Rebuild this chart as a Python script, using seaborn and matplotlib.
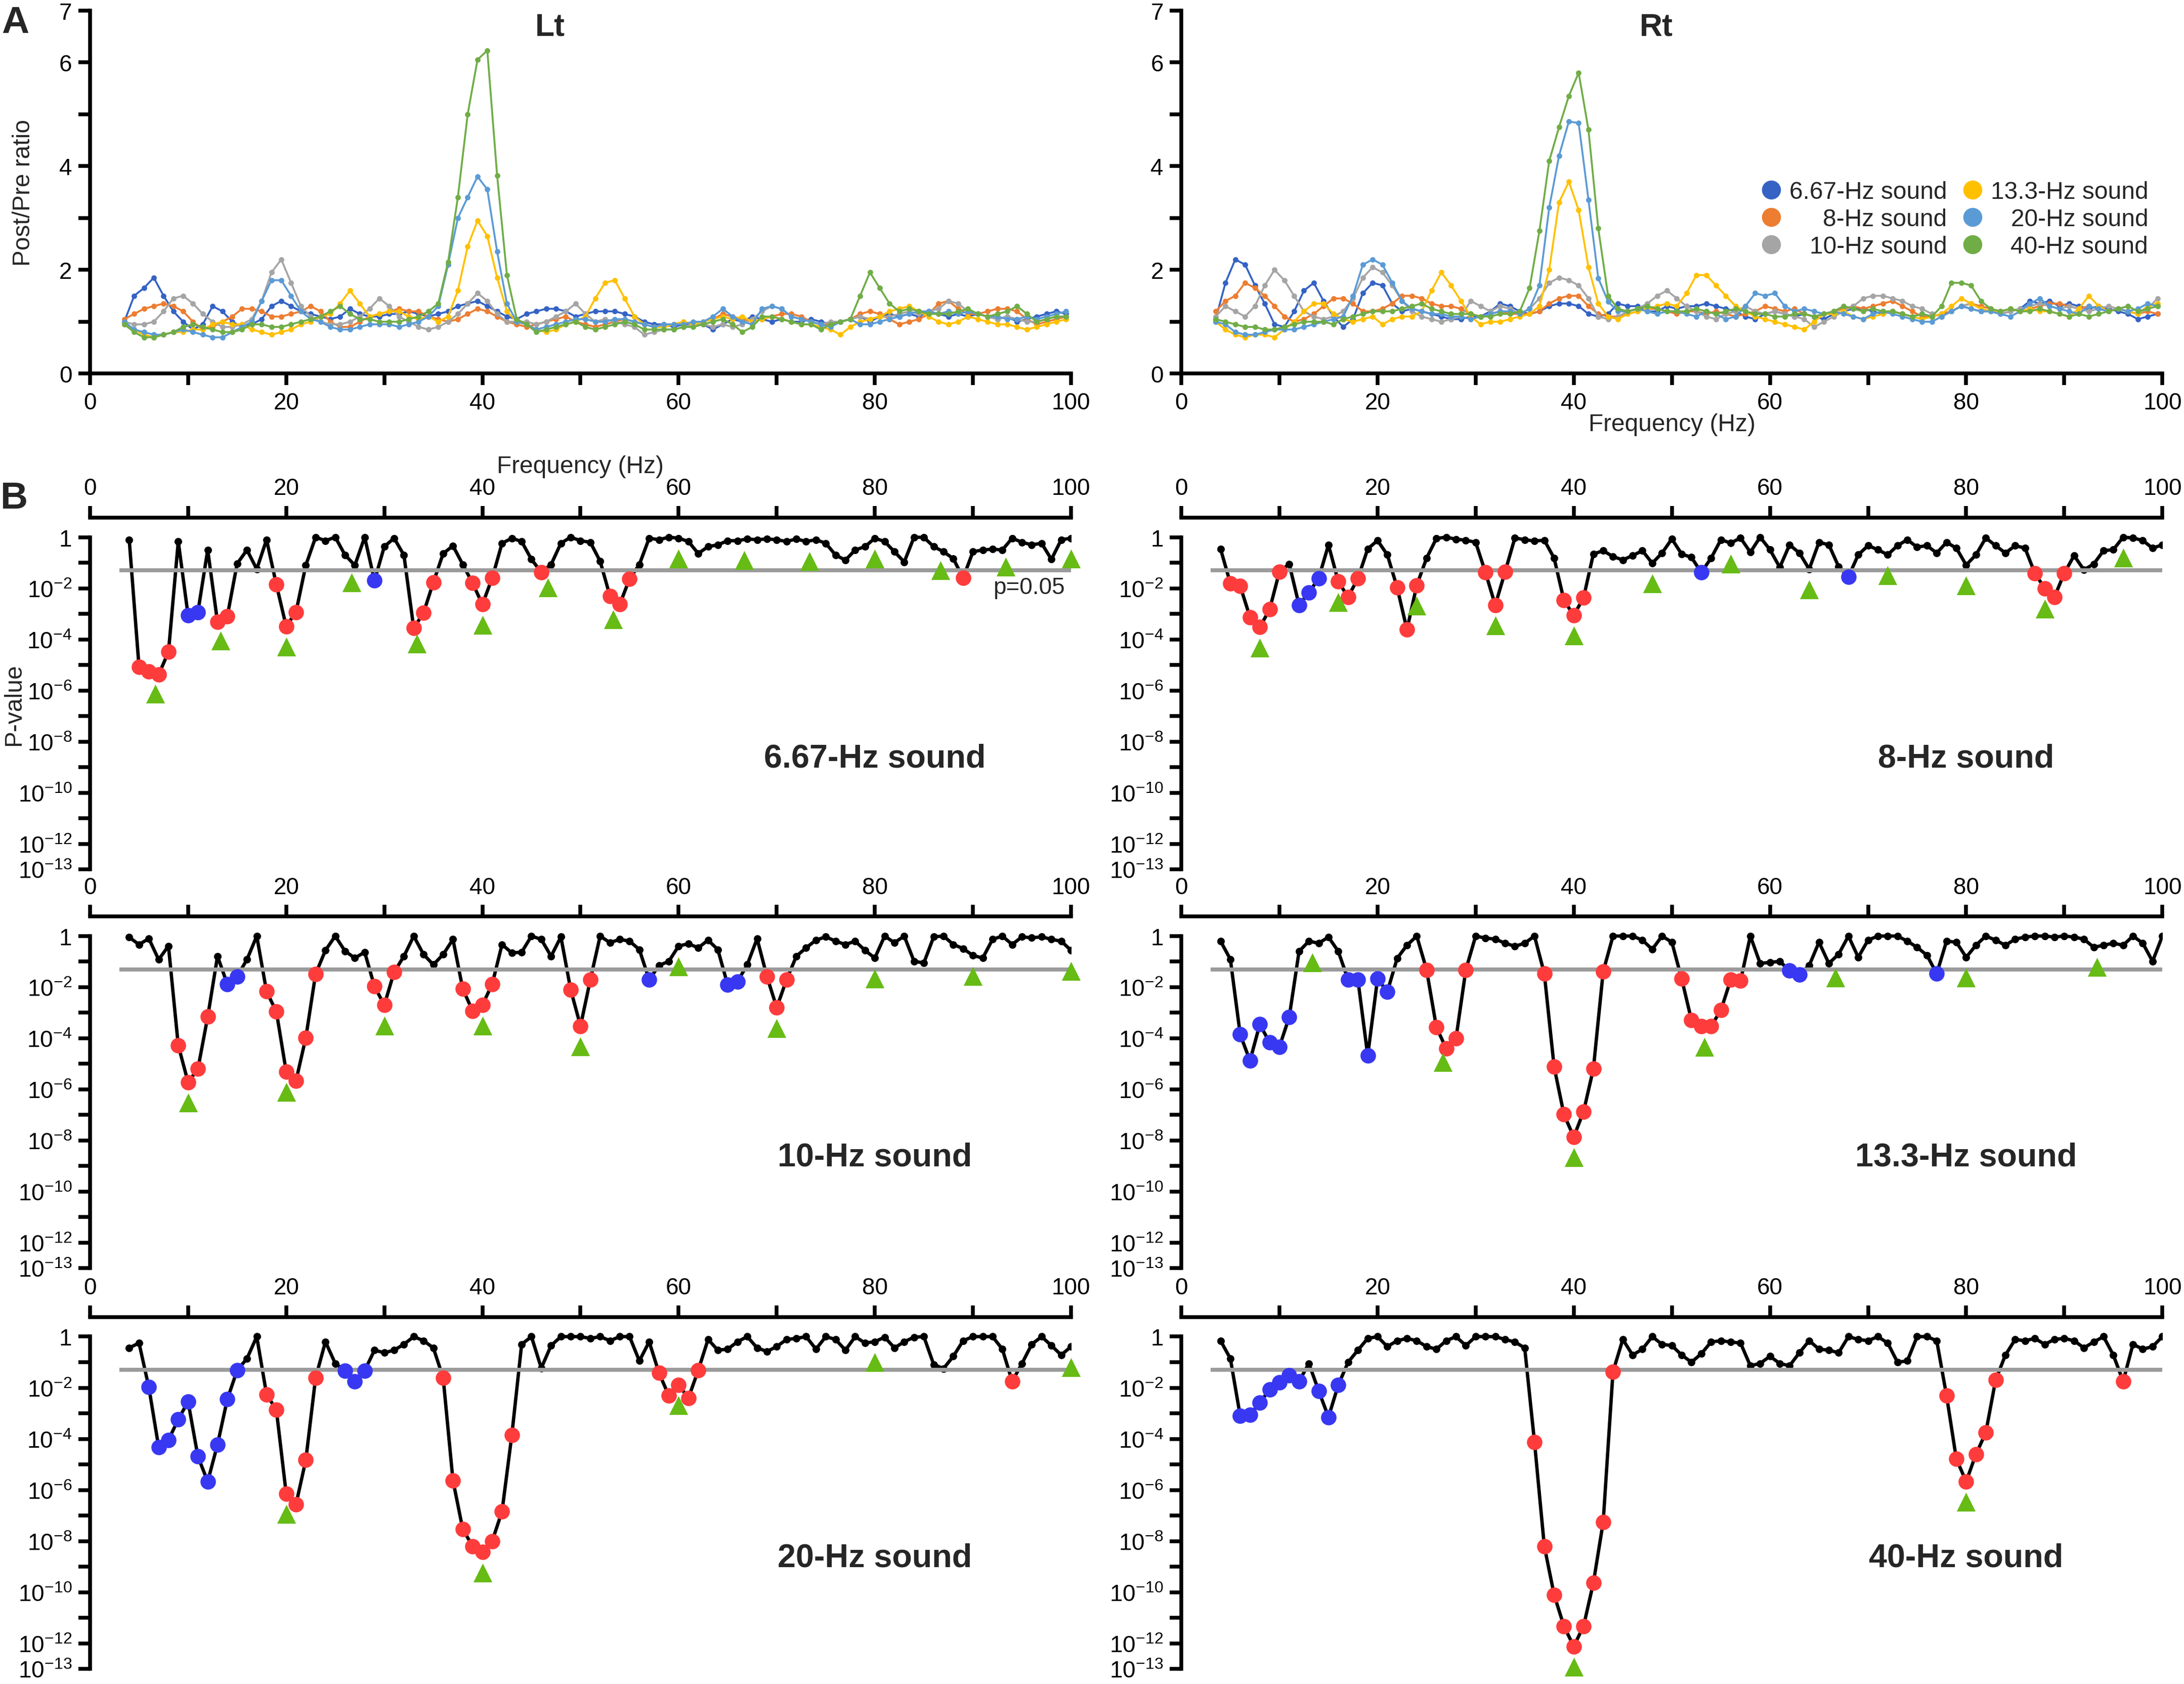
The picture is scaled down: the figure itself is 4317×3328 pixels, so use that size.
import numpy as np
import matplotlib
matplotlib.use("Agg")
import matplotlib.pyplot as plt
from matplotlib.lines import Line2D
from matplotlib.ticker import NullLocator
import seaborn as sns

sns.set_style("ticks")
plt.rcParams["font.family"] = ["Liberation Sans", "DejaVu Sans"]
plt.rcParams["mathtext.fontset"] = "custom"
plt.rcParams["mathtext.rm"] = "Liberation Sans"
plt.rcParams["mathtext.it"] = "Liberation Sans:italic"
plt.rcParams["mathtext.bf"] = "Liberation Sans:bold"

# ---------------------------------------------------------------- data
freq_a = np.arange(3.5, 100.0, 1.0)   # frequency bins of panel A (Hz)
freq_b = np.arange(4, 101, 1)         # frequency bins of panel B (Hz)

sound_labels = ["6.67-Hz sound", "8-Hz sound", "10-Hz sound",
                "13.3-Hz sound", "20-Hz sound", "40-Hz sound"]
sound_colors = ["#3563C4", "#ED7D31", "#A5A5A5", "#FFC000", "#5B9BD5", "#70AD47"]

# Panel A, left hemisphere: post/pre ratio
lt_667 = [1.0, 1.5, 1.65, 1.85, 1.5, 1.2, 1.0, 0.85, 0.95, 1.3,
          1.2, 1.0, 0.9, 0.95, 1.05, 1.3, 1.4, 1.3, 1.2, 1.15,
          1.1, 1.05, 1.1, 1.25, 1.15, 1.1, 1.1, 1.15, 1.15, 1.2,
          1.15, 1.1, 1.15, 1.2, 1.3, 1.35, 1.4, 1.3, 1.2, 1.1,
          1.05, 1.15, 1.2, 1.25, 1.25, 1.2, 1.1, 1.15, 1.2, 1.2,
          1.2, 1.15, 1.1, 1.0, 0.95, 0.95, 0.9, 0.95, 0.95, 0.95,
          0.85, 0.95, 1.05, 1.0, 1.1, 1.05, 1.0, 1.05, 1.0, 1.0,
          1.05, 1.0, 0.95, 1.0, 1.05, 1.1, 1.0, 1.1, 1.15, 1.1,
          1.15, 1.1, 1.2, 1.15, 1.1, 1.15, 1.1, 1.15, 1.1, 1.05,
          1.1, 1.0, 1.05, 1.1, 1.15, 1.2, 1.15]
lt_8 = [1.05, 1.15, 1.25, 1.3, 1.35, 1.3, 1.2, 1.0, 0.85, 0.9,
        1.0, 1.1, 1.25, 1.25, 1.2, 1.1, 1.1, 1.15, 1.2, 1.3,
        1.2, 1.0, 0.9, 0.9, 1.0, 1.1, 1.15, 1.2, 1.25, 1.2,
        1.2, 1.1, 1.05, 1.0, 1.05, 1.15, 1.25, 1.2, 1.1, 1.0,
        0.95, 0.9, 0.95, 1.0, 1.05, 1.1, 1.0, 0.95, 0.9, 0.95,
        1.0, 1.05, 1.0, 0.95, 0.9, 0.95, 0.95, 1.0, 0.95, 1.0,
        1.05, 1.15, 1.1, 1.05, 1.0, 1.05, 1.1, 1.15, 1.15, 1.1,
        1.0, 0.95, 0.95, 1.0, 1.05, 1.15, 1.2, 1.15, 1.05, 0.95,
        1.0, 1.05, 1.15, 1.35, 1.4, 1.25, 1.15, 1.15, 1.2, 1.25,
        1.25, 1.2, 1.05, 0.95, 1.0, 1.05, 1.1]
lt_10 = [1.0, 0.95, 0.95, 1.0, 1.2, 1.45, 1.5, 1.35, 1.15, 1.0,
         0.9, 0.9, 0.95, 1.05, 1.4, 1.95, 2.2, 1.75, 1.3, 1.1,
         1.0, 0.95, 0.95, 1.0, 1.1, 1.25, 1.45, 1.3, 1.1, 1.0,
         0.9, 0.85, 0.9, 1.0, 1.15, 1.35, 1.55, 1.4, 1.15, 1.0,
         1.0, 1.0, 0.95, 1.0, 1.1, 1.2, 1.35, 1.15, 1.0, 1.05,
         1.0, 0.95, 0.9, 0.75, 0.8, 0.85, 0.85, 0.9, 0.95, 0.95,
         0.9, 0.95, 0.9, 0.95, 1.05, 1.2, 1.3, 1.25, 1.1, 1.05,
         1.0, 0.95, 1.0, 1.0, 1.05, 1.1, 1.05, 1.1, 1.1, 1.15,
         1.2, 1.15, 1.2, 1.25, 1.4, 1.35, 1.2, 1.15, 1.1, 1.05,
         1.1, 1.05, 1.0, 1.0, 1.05, 1.1, 1.1]
lt_133 = [0.95, 0.85, 0.75, 0.7, 0.75, 0.8, 0.8, 0.85, 0.85, 0.95,
          1.0, 0.95, 0.95, 0.85, 0.8, 0.75, 0.8, 0.85, 0.95, 1.0,
          1.1, 1.15, 1.35, 1.6, 1.35, 1.1, 1.15, 1.2, 1.2, 1.1,
          1.05, 1.1, 1.0, 1.1, 1.6, 2.45, 2.95, 2.65, 1.85, 1.2,
          1.0, 0.95, 0.85, 0.8, 0.85, 0.95, 1.0, 1.1, 1.45, 1.75,
          1.8, 1.45, 1.1, 0.95, 0.9, 0.9, 0.95, 1.0, 0.95, 1.0,
          1.05, 1.1, 1.05, 1.1, 1.0, 1.05, 1.1, 1.05, 1.0, 0.95,
          0.95, 0.9, 0.85, 0.75, 0.9, 1.0, 1.05, 1.1, 1.2, 1.25,
          1.3, 1.2, 1.1, 1.0, 0.95, 1.0, 1.1, 1.05, 1.0, 0.95,
          0.95, 0.9, 0.85, 0.9, 0.95, 1.0, 1.05]
lt_20 = [1.0, 0.85, 0.8, 0.75, 0.75, 0.8, 0.85, 0.8, 0.75, 0.7,
         0.7, 0.8, 0.9, 1.0, 1.4, 1.8, 1.8, 1.5, 1.2, 1.05,
         1.0, 0.9, 0.85, 0.85, 0.9, 0.95, 0.95, 0.95, 0.9, 0.95,
         1.0, 1.1, 1.3, 2.1, 3.0, 3.4, 3.8, 3.55, 2.35, 1.35,
         1.0, 0.95, 0.85, 0.9, 0.95, 1.0, 1.05, 1.05, 1.0, 1.0,
         1.05, 1.05, 1.0, 0.95, 0.9, 0.95, 0.95, 0.95, 1.0, 1.0,
         1.1, 1.25, 1.1, 1.0, 0.95, 1.25, 1.3, 1.25, 1.1, 1.05,
         1.0, 0.95, 0.9, 1.0, 1.05, 0.95, 0.95, 1.0, 1.05, 1.1,
         1.15, 1.2, 1.2, 1.15, 1.2, 1.15, 1.2, 1.15, 1.1, 1.1,
         1.05, 1.05, 1.1, 1.05, 1.1, 1.15, 1.2]
lt_40 = [0.95, 0.8, 0.7, 0.7, 0.75, 0.8, 0.9, 0.95, 0.9, 0.85,
         0.8, 0.8, 0.85, 0.95, 0.95, 0.9, 0.9, 0.95, 1.0, 1.05,
         1.1, 1.2, 1.3, 1.15, 1.05, 1.05, 1.0, 1.0, 1.0, 1.05,
         1.1, 1.2, 1.35, 2.15, 3.4, 5.0, 6.05, 6.23, 3.82, 1.9,
         1.05, 0.95, 0.8, 0.85, 0.9, 0.95, 1.0, 0.9, 0.85, 0.9,
         0.95, 1.0, 0.95, 0.85, 0.85, 0.85, 0.85, 0.9, 0.9, 0.95,
         1.0, 1.05, 0.95, 0.8, 0.9, 1.1, 1.1, 1.05, 1.0, 0.95,
         0.95, 0.85, 0.95, 1.0, 1.05, 1.5, 1.95, 1.65, 1.35, 1.2,
         1.25, 1.2, 1.15, 1.15, 1.15, 1.2, 1.25, 1.15, 1.1, 1.15,
         1.2, 1.3, 1.15, 1.0, 1.05, 1.1, 1.1]

# Panel A, right hemisphere: post/pre ratio
rt_667 = [1.05, 1.75, 2.2, 2.1, 1.7, 1.35, 0.95, 0.9, 1.2, 1.6,
          1.75, 1.4, 1.1, 0.9, 1.05, 1.55, 1.75, 1.7, 1.35, 1.2,
          1.25, 1.2, 1.15, 1.1, 1.05, 1.05, 1.1, 1.1, 1.2, 1.35,
          1.3, 1.2, 1.15, 1.2, 1.3, 1.35, 1.35, 1.3, 1.15, 1.1,
          1.15, 1.35, 1.3, 1.3, 1.2, 1.2, 1.3, 1.25, 1.3, 1.3,
          1.35, 1.3, 1.25, 1.2, 1.1, 1.05, 1.15, 1.2, 1.15, 1.1,
          1.15, 1.1, 1.05, 1.15, 1.2, 1.25, 1.25, 1.2, 1.15, 1.2,
          1.15, 1.1, 1.15, 1.1, 1.15, 1.2, 1.3, 1.25, 1.2, 1.2,
          1.15, 1.2, 1.25, 1.4, 1.35, 1.4, 1.3, 1.35, 1.3, 1.25,
          1.3, 1.25, 1.2, 1.15, 1.05, 1.1, 1.15]
rt_8 = [1.2, 1.4, 1.5, 1.75, 1.65, 1.5, 1.3, 1.1, 1.0, 1.05,
        1.15, 1.3, 1.45, 1.45, 1.35, 1.2, 1.2, 1.25, 1.35, 1.5,
        1.5, 1.45, 1.35, 1.3, 1.3, 1.25, 1.15, 1.1, 1.15, 1.2,
        1.15, 1.15, 1.15, 1.2, 1.35, 1.45, 1.5, 1.5, 1.3, 1.15,
        1.1, 1.1, 1.15, 1.2, 1.25, 1.25, 1.2, 1.15, 1.2, 1.2,
        1.15, 1.2, 1.15, 1.1, 1.15, 1.2, 1.3, 1.25, 1.2, 1.25,
        1.15, 1.1, 1.15, 1.2, 1.25, 1.3, 1.25, 1.3, 1.35, 1.4,
        1.3, 1.2, 1.1, 1.1, 1.15, 1.2, 1.3, 1.35, 1.3, 1.25,
        1.2, 1.25, 1.2, 1.25, 1.3, 1.35, 1.35, 1.3, 1.25, 1.3,
        1.25, 1.2, 1.25, 1.2, 1.15, 1.2, 1.15]
rt_10 = [1.1, 1.3, 1.2, 1.1, 1.3, 1.7, 2.0, 1.8, 1.5, 1.2,
         1.1, 1.05, 1.1, 1.2, 1.45, 1.85, 2.05, 1.95, 1.7, 1.4,
         1.2, 1.1, 1.05, 1.0, 1.05, 1.1, 1.4, 1.3, 1.2, 1.3,
         1.25, 1.15, 1.25, 1.45, 1.75, 1.85, 1.8, 1.7, 1.45, 1.1,
         1.05, 1.1, 1.2, 1.25, 1.35, 1.5, 1.6, 1.45, 1.3, 1.2,
         1.1, 1.05, 1.15, 1.2, 1.3, 1.2, 1.15, 1.2, 1.15, 1.1,
         1.05, 0.9, 1.0, 1.1, 1.2, 1.3, 1.45, 1.5, 1.5, 1.45,
         1.4, 1.3, 1.25, 1.15, 1.1, 1.2, 1.3, 1.35, 1.25, 1.2,
         1.15, 1.2, 1.25, 1.3, 1.35, 1.3, 1.25, 1.3, 1.25, 1.2,
         1.25, 1.3, 1.25, 1.2, 1.15, 1.25, 1.45]
rt_133 = [1.0, 0.85, 0.75, 0.7, 0.75, 0.75, 0.7, 0.85, 1.0, 1.2,
          1.35, 1.35, 1.15, 1.05, 1.0, 1.05, 1.1, 0.95, 1.05, 1.1,
          1.1, 1.2, 1.6, 1.95, 1.7, 1.4, 1.1, 0.95, 1.0, 1.0,
          1.05, 1.1, 1.15, 1.3, 2.0, 3.3, 3.7, 3.15, 2.05, 1.35,
          1.1, 1.05, 1.15, 1.2, 1.25, 1.3, 1.35, 1.3, 1.55, 1.9,
          1.9, 1.7, 1.5, 1.3, 1.2, 1.1, 1.05, 1.0, 0.95, 0.9,
          0.85, 1.0, 1.15, 1.15, 1.2, 1.1, 1.05, 1.1, 1.15, 1.2,
          1.15, 1.1, 1.05, 1.1, 1.15, 1.3, 1.45, 1.35, 1.25, 1.2,
          1.2, 1.25, 1.2, 1.25, 1.2, 1.2, 1.15, 1.1, 1.25, 1.5,
          1.3, 1.2, 1.25, 1.2, 1.15, 1.3, 1.35]
rt_20 = [1.0, 0.95, 0.8, 0.75, 0.75, 0.8, 0.85, 0.85, 0.85, 0.9,
         0.95, 1.0, 1.05, 1.1, 1.5, 2.1, 2.2, 2.1, 1.75, 1.4,
         1.25, 1.2, 1.15, 1.15, 1.1, 1.1, 1.05, 1.1, 1.15, 1.2,
         1.2, 1.15, 1.25, 1.7, 3.2, 4.2, 4.86, 4.83, 3.35, 1.84,
         1.39, 1.2, 1.2, 1.25, 1.2, 1.15, 1.2, 1.2, 1.15, 1.1,
         1.2, 1.15, 1.05, 1.1, 1.3, 1.55, 1.5, 1.55, 1.3, 1.2,
         1.25, 1.2, 1.15, 1.2, 1.15, 1.1, 1.05, 1.15, 1.2, 1.15,
         1.1, 1.05, 1.0, 1.0, 1.1, 1.2, 1.3, 1.25, 1.2, 1.2,
         1.15, 1.1, 1.2, 1.35, 1.45, 1.3, 1.25, 1.2, 1.15, 1.3,
         1.25, 1.2, 1.25, 1.2, 1.25, 1.35, 1.3]
rt_40 = [1.05, 1.0, 0.95, 0.9, 0.9, 0.85, 0.85, 0.9, 0.95, 1.0,
         1.0, 1.0, 0.95, 1.05, 1.1, 1.15, 1.2, 1.2, 1.2, 1.25,
         1.3, 1.35, 1.25, 1.2, 1.15, 1.15, 1.15, 1.1, 1.1, 1.15,
         1.15, 1.2, 1.65, 2.75, 4.1, 4.75, 5.35, 5.8, 4.7, 2.8,
         1.5, 1.25, 1.2, 1.25, 1.3, 1.25, 1.2, 1.2, 1.2, 1.25,
         1.2, 1.15, 1.2, 1.25, 1.2, 1.15, 1.15, 1.1, 1.1, 1.15,
         1.15, 1.1, 1.15, 1.2, 1.3, 1.25, 1.2, 1.25, 1.2, 1.2,
         1.15, 1.1, 1.15, 1.1, 1.3, 1.75, 1.75, 1.7, 1.4, 1.25,
         1.2, 1.25, 1.2, 1.2, 1.25, 1.2, 1.15, 1.1, 1.15, 1.1,
         1.15, 1.2, 1.25, 1.3, 1.2, 1.25, 1.3]

# Panel B: log10(P-value) per frequency bin (4..100 Hz)
logp_667 = [-0.1, -5.08, -5.25, -5.38, -4.49, -0.17, -3.06, -2.93, -0.5, -3.32,
            -3.09, -1.04, -0.5, -1.25, -0.1, -1.86, -3.49, -2.93, -1.1, 0.0,
            -0.14, 0.0, -0.7, -1.1, 0.0, -1.7, -0.37, -0.04, -0.7, -3.56,
            -2.96, -1.77, -0.64, -0.34, -1.07, -1.8, -2.63, -1.6, -0.24, -0.04,
            -0.17, -0.87, -1.37, -1.07, -0.24, 0.0, -0.14, -0.2, -0.94, -2.3,
            -2.63, -1.63, -1.07, -0.04, -0.1, 0.0, -0.04, -0.17, -0.64, -0.37,
            -0.3, -0.14, -0.14, -0.07, -0.1, -0.07, -0.1, -0.17, -0.07, -0.17,
            -0.1, -0.24, -0.7, -0.9, -0.5, -0.37, -0.04, -0.17, -0.57, -0.97,
            0.0, -0.01, -0.37, -0.57, -0.84, -1.6, -0.57, -0.5, -0.47, -0.5,
            -0.04, -0.2, -0.3, -0.24, -0.87, -0.1, -0.04]
logp_8 = [-0.46, -1.81, -1.91, -3.13, -3.52, -2.83, -1.35, -1.05, -2.66, -2.17,
          -1.61, -0.3, -1.74, -2.34, -1.61, -0.46, -0.13, -0.69, -1.97, -3.62,
          -1.88, -0.82, -0.05, 0.0, -0.08, -0.12, -0.2, -1.38, -2.66, -1.36,
          -0.03, -0.1, -0.15, -0.12, -0.82, -2.47, -3.06, -2.37, -0.66, -0.53,
          -0.76, -0.89, -0.72, -0.53, -1.02, -0.62, -0.07, -0.66, -0.79, -1.38,
          -0.82, -0.1, -0.23, -0.03, -0.59, 0.0, -0.49, -1.18, -0.3, -0.62,
          -1.25, -0.2, -0.3, -1.15, -1.55, -0.69, -0.33, -0.49, -0.69, -0.33,
          -0.1, -0.39, -0.33, -0.62, -0.2, -0.43, -1.09, -0.69, -0.03, -0.33,
          -0.62, -0.33, -0.43, -1.41, -2.0, -2.34, -1.41, -0.72, -1.28, -1.05,
          -0.53, -0.49, 0.0, -0.03, -0.13, -0.43, -0.3]
logp_10 = [-0.05, -0.33, -0.1, -0.92, -0.39, -4.28, -5.72, -5.2, -3.16, -0.79,
           -1.88, -1.58, -0.92, 0.0, -2.17, -2.96, -5.3, -5.66, -3.98, -1.48,
           -0.56, 0.0, -0.59, -0.86, -0.63, -1.97, -2.7, -1.41, -0.79, 0.0,
           -0.72, -1.12, -0.72, -0.13, -2.07, -2.93, -2.7, -1.88, -0.33, -0.66,
           -0.63, 0.0, -0.13, -0.79, -0.03, -2.1, -3.52, -1.71, 0.0, -0.26,
           -0.13, -0.2, -0.53, -1.71, -1.15, -0.99, -0.39, -0.3, -0.46, -0.16,
           -0.53, -1.91, -1.78, -1.12, -0.1, -1.58, -2.8, -1.71, -0.79, -0.46,
           -0.16, -0.03, -0.2, -0.33, -0.2, -0.56, -0.86, 0.0, -0.26, 0.0,
           -0.99, -1.05, -0.03, 0.0, -0.33, -0.49, -0.76, -0.86, -0.13, 0.0,
           -0.33, -0.03, -0.07, -0.03, -0.13, -0.2, -0.56]
logp_133 = [-0.2, -0.91, -3.85, -4.88, -3.45, -4.17, -4.33, -3.17, -0.6, -0.2,
            -0.28, -0.04, -0.6, -1.71, -1.71, -4.68, -1.67, -2.18, -0.87, -0.36,
            0.0, -1.32, -3.57, -4.4, -4.0, -1.32, 0.0, -0.08, -0.12, -0.28,
            -0.4, -0.28, 0.0, -1.47, -5.12, -6.98, -7.86, -6.87, -5.2, -1.39,
            0.0, 0.0, 0.0, -0.16, -0.52, 0.0, -0.24, -1.67, -3.29, -3.53,
            -3.53, -2.9, -1.71, -1.75, 0.0, -1.07, -1.03, -0.99, -1.35, -1.51,
            -1.15, -0.24, -1.07, -0.71, 0.0, -0.83, -0.16, 0.0, 0.0, 0.0,
            -0.2, -0.44, -0.75, -1.47, -0.2, -0.24, -0.83, -0.36, 0.0, -0.16,
            -0.36, -0.12, -0.04, 0.0, 0.0, -0.04, 0.0, -0.04, -0.12, -0.44,
            -0.36, -0.28, -0.36, 0.0, -0.28, -0.99, 0.0]
logp_20 = [-0.44, -0.25, -1.98, -4.32, -4.04, -3.24, -2.54, -4.69, -5.67, -4.22,
           -2.45, -1.32, -0.86, 0.0, -2.26, -2.87, -6.14, -6.56, -4.83, -1.61,
           -0.2, -1.05, -1.33, -1.75, -1.33, -0.53, -0.63, -0.53, -0.3, 0.0,
           -0.16, -0.44, -1.61, -5.63, -7.54, -8.2, -8.43, -8.0, -6.84, -3.85,
           -0.3, 0.0, -1.23, -0.35, 0.0, 0.0, 0.0, -0.07, 0.0, -0.16,
           0.0, 0.0, -0.95, -0.2, -1.42, -2.31, -1.89, -2.4, -1.32, -0.11,
           -0.53, -0.49, -0.2, 0.0, -0.44, -0.58, -0.39, -0.11, -0.07, 0.0,
           -0.49, 0.0, -0.11, -0.53, 0.0, -0.25, -0.2, -0.02, -0.44, -0.2,
           -0.02, 0.0, -1.09, -1.25, -0.77, -0.16, 0.0, 0.0, 0.0, -0.49,
           -1.75, -1.05, -0.3, 0.0, -0.35, -0.72, -0.39]
logp_40 = [-0.16, -0.86, -3.1, -3.06, -2.59, -2.07, -1.79, -1.51, -1.75, -1.05,
           -2.12, -3.15, -1.89, -1.0, -0.53, -0.07, 0.0, -0.39, -0.16, -0.07,
           -0.16, -0.39, -0.49, -0.16, 0.0, -0.35, 0.0, 0.0, 0.0, -0.11,
           -0.21, -0.44, -4.13, -8.2, -10.1, -11.33, -12.12, -11.33, -9.64, -7.26,
           -1.37, -0.11, -0.72, -0.49, 0.0, -0.3, -0.35, -0.72, -1.0, -0.67,
           -0.21, -0.16, -0.21, -0.25, -1.14, -1.05, -0.77, -1.05, -1.14, -0.63,
           -0.16, -0.49, -0.53, -0.63, 0.0, -0.11, -0.16, 0.0, -0.25, -1.0,
           -0.95, 0.0, 0.0, -0.16, -2.31, -4.79, -5.67, -4.6, -3.76, -1.7,
           -0.72, -0.11, -0.16, -0.07, -0.3, -0.11, -0.07, -0.16, -0.44, -0.21,
           0.0, -0.72, -1.75, -0.3, -0.49, -0.39, 0.0]

# frequencies where the significant change is a decrease (blue)
blue_667 = [10, 11, 29]
blue_8 = [12, 13, 14, 53, 68]
blue_10 = [14, 15, 57, 65, 66]
blue_133 = [6, 7, 8, 9, 10, 11, 17, 18, 19, 20, 21, 62, 63, 77]
blue_20 = [6, 7, 8, 9, 10, 11, 12, 13, 14, 15, 26, 27, 28]
blue_40 = [6, 7, 8, 9, 10, 11, 12, 14, 15, 16]

# harmonics of each stimulus frequency (green triangles)
harm_667 = [6.67, 13.33, 20, 26.67, 33.33, 40, 46.67, 53.33, 60, 66.67, 73.33, 80, 86.67, 93.33, 100]
harm_8 = [8, 16, 24, 32, 40, 48, 56, 64, 72, 80, 88, 96]
harm_10 = [10, 20, 30, 40, 50, 60, 70, 80, 90, 100]
harm_133 = [13.33, 26.67, 40, 53.33, 66.67, 80, 93.33]
harm_20 = [20, 40, 60, 80, 100]
harm_40 = [40, 80]

p_threshold = 0.05
p_tick_exps = [0, -1, -2, -3, -4, -5, -6, -7, -8, -9, -10, -11, -12, -13]
p_tick_labels = ["1", "", r"$10^{-2}$", "", r"$10^{-4}$", "", r"$10^{-6}$", "",
                 r"$10^{-8}$", "", r"$10^{-10}$", "", r"$10^{-12}$", r"$10^{-13}$"]
freq_ticks = [0, 10, 20, 30, 40, 50, 60, 70, 80, 90, 100]
freq_tick_labels = ["0", "", "20", "", "40", "", "60", "", "80", "", "100"]
ratio_ticks = [0, 1, 2, 3, 4, 5, 6, 7]
ratio_tick_labels = ["0", "", "2", "", "4", "", "6", "7"]

RED = "#FF3C3C"
BLUE = "#3838F2"
GREEN = "#66BB14"
LINE_GRAY = "#9B9B9B"
SPINE_W = 1.8

# ---------------------------------------------------------------- figure
fig = plt.figure(figsize=(4317 / 300, 3329 / 300), dpi=300)
col_x = [0.0412, 0.5409]
ax_w = 0.4492


def style_common(ax):
    for s in ax.spines.values():
        s.set_linewidth(SPINE_W)
        s.set_color("black")
    ax.tick_params(width=SPINE_W, length=5.5, labelsize=11, colors="black",
                   direction="out", pad=3)


def draw_ratio(ax, series, title, title_x):
    for vals, col in zip(series, sound_colors):
        sns.lineplot(x=freq_a, y=vals, color=col, linewidth=0.9, marker="o",
                     markersize=2.6, markeredgewidth=0, errorbar=None, ax=ax)
    ax.set_xlim(0, 100)
    ax.set_ylim(0, 7)
    ax.set_xticks(freq_ticks)
    ax.set_xticklabels(freq_tick_labels)
    ax.set_yticks(ratio_ticks)
    ax.set_yticklabels(ratio_tick_labels)
    ax.set_xlabel("")
    ax.set_ylabel("")
    sns.despine(ax=ax)
    style_common(ax)
    ax.text(title_x, 0.955, title, transform=ax.transAxes, ha="center",
            va="center", fontsize=15, fontweight="bold")


def draw_p(ax, logp, blues, harms, label):
    ax.set_yscale("log")
    lp = np.array(logp, dtype=float)
    p = 10.0 ** lp
    sns.lineplot(x=freq_b, y=p, color="black", linewidth=1.6, marker="o",
                 markersize=3.6, markeredgewidth=0, errorbar=None, ax=ax, zorder=2)
    ax.hlines(p_threshold, 3, 100, color=LINE_GRAY, linewidth=1.9, zorder=2.5)
    sig = p < p_threshold
    isblue = np.isin(freq_b, blues)
    red_m = sig & ~isblue
    blue_m = sig & isblue
    sns.scatterplot(x=freq_b[red_m], y=p[red_m], color=RED, s=54, linewidth=0,
                    ax=ax, zorder=4, legend=False, clip_on=False)
    sns.scatterplot(x=freq_b[blue_m], y=p[blue_m], color=BLUE, s=54, linewidth=0,
                    ax=ax, zorder=4, legend=False, clip_on=False)
    tri_y = 10.0 ** (np.interp(harms, freq_b, lp) - 0.8)
    sns.scatterplot(x=harms, y=tri_y, marker="^", color=GREEN, s=80, linewidth=0,
                    ax=ax, zorder=4, legend=False, clip_on=False)
    ax.set_xlim(0, 100)
    ax.set_ylim(1e-13, 10 ** 0.77)
    ax.set_yticks([10.0 ** e for e in p_tick_exps])
    ax.set_yticklabels(p_tick_labels)
    ax.yaxis.set_minor_locator(NullLocator())
    ax.xaxis.tick_top()
    ax.set_xticks(freq_ticks)
    ax.set_xticklabels(freq_tick_labels)
    ax.set_xlabel("")
    ax.set_ylabel("")
    ax.spines["bottom"].set_visible(False)
    ax.spines["right"].set_visible(False)
    style_common(ax)
    ax.tick_params(axis="x", top=True, bottom=False, labeltop=True, labelbottom=False)
    ax.spines["left"].set_bounds(1e-13, 1)
    ax.text(80, 10 ** -8.65, label, ha="center", va="center", fontsize=15.5,
            fontweight="bold")


# Panel A
axA_l = fig.add_axes([col_x[0], 0.7779, ax_w, 0.2156])
axA_r = fig.add_axes([col_x[1], 0.7779, ax_w, 0.2156])
draw_ratio(axA_l, [lt_667, lt_8, lt_10, lt_133, lt_20, lt_40], "Lt", 0.469)
draw_ratio(axA_r, [rt_667, rt_8, rt_10, rt_133, rt_20, rt_40], "Rt", 0.484)
axA_l.set_ylabel("Post/Pre ratio", fontsize=11.5)
axA_l.yaxis.set_label_coords(-0.0675, 0.5)
axA_l.yaxis.label.set_va("center")
axA_r.set_xlabel("Frequency (Hz)", fontsize=11.5)
axA_r.xaxis.set_label_coords(0.5, -0.14)
axA_r.xaxis.label.set_va("center")

handles = [Line2D([], [], linestyle="", marker="o", markersize=9,
                  markeredgewidth=0, color=c) for c in sound_colors]
leg = axA_r.legend(handles, sound_labels, ncol=2, loc="upper left",
                   bbox_to_anchor=(0.59, 0.532), frameon=False, fontsize=11.5,
                   handlelength=0.9, handletextpad=0.3, columnspacing=0.6,
                   labelspacing=0.19, borderaxespad=0, borderpad=0)

# Panel B
row_bottoms = [0.4836, 0.2468, 0.0090]
row_h = 0.2089
b_specs = [
    (0, 0, logp_667, blue_667, harm_667, "6.67-Hz sound"),
    (0, 1, logp_8, blue_8, harm_8, "8-Hz sound"),
    (1, 0, logp_10, blue_10, harm_10, "10-Hz sound"),
    (1, 1, logp_133, blue_133, harm_133, "13.3-Hz sound"),
    (2, 0, logp_20, blue_20, harm_20, "20-Hz sound"),
    (2, 1, logp_40, blue_40, harm_40, "40-Hz sound"),
]
b_axes = {}
for r, c, lp, bl, hm, lab in b_specs:
    ax = fig.add_axes([col_x[c], row_bottoms[r], ax_w, row_h])
    draw_p(ax, lp, bl, hm, lab)
    b_axes[(r, c)] = ax

ax0 = b_axes[(0, 0)]
ax0.set_ylabel("P-value", fontsize=11.5)
ax0.yaxis.set_label_coords(-0.0775, 0.47)
ax0.yaxis.label.set_va("center")
ax0.xaxis.set_label_position("top")
ax0.set_xlabel("Frequency (Hz)", fontsize=11.5)
ax0.xaxis.set_label_coords(0.5, 1.146)
ax0.xaxis.label.set_va("center")
ax0.text(95.7, 10 ** -1.97, "p=0.05", ha="center", va="center", fontsize=11)

fig.text(0.0070, 0.9862, "A", fontsize=18, fontweight="bold", ha="center", va="center")
fig.text(0.0066, 0.7040, "B", fontsize=18, fontweight="bold", ha="center", va="center")

# right-align legend labels within each column
fig.canvas.draw()
renderer = fig.canvas.get_renderer()
texts = leg.get_texts()
widths = [t.get_window_extent(renderer).width for t in texts]
for col in range(2):
    idx = list(range(col * 3, col * 3 + 3))
    mw = max(widths[i] for i in idx)
    for i in idx:
        texts[i].set_position((mw - widths[i], 0))

fig.savefig("out.png", dpi=300)
